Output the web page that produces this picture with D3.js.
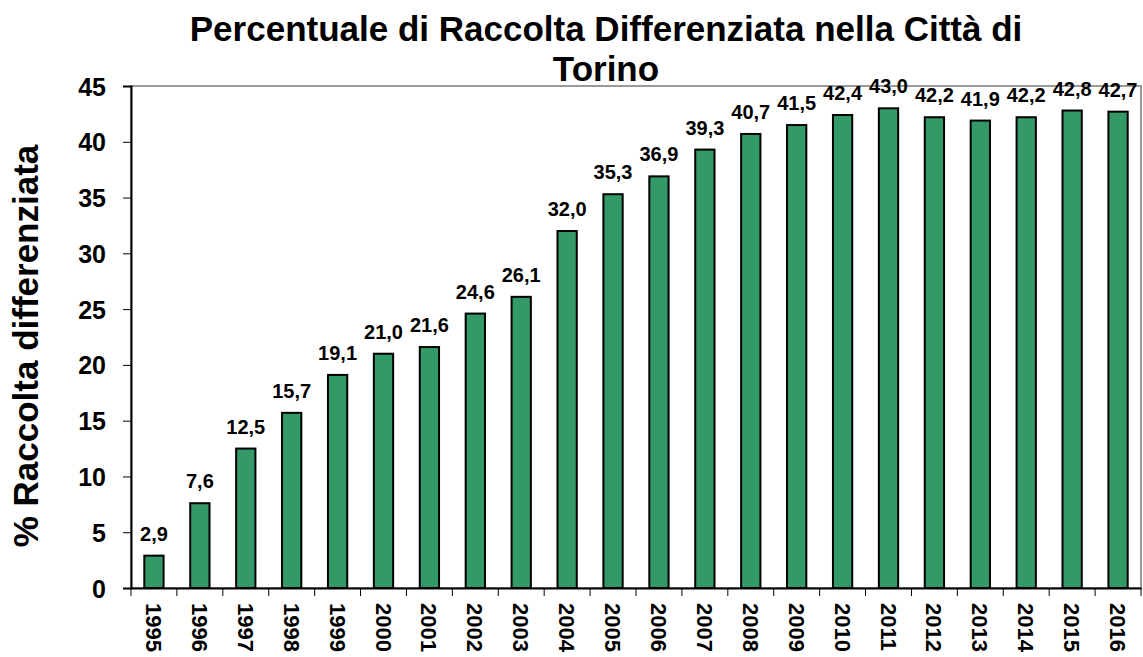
<!DOCTYPE html>
<html><head><meta charset="utf-8">
<script src="https://cdn.jsdelivr.net/npm/d3@7"></script>
<style>body{margin:0;background:#fff}svg{display:block}text{font-family:"Liberation Sans",Arial,sans-serif;font-weight:bold}</style>
</head><body>
<script>
const years = ["1995","1996","1997","1998","1999","2000","2001","2002","2003","2004","2005","2006","2007","2008","2009","2010","2011","2012","2013","2014","2015","2016"];
const values = [2.9,7.6,12.5,15.7,19.1,21.0,21.6,24.6,26.1,32.0,35.3,36.9,39.3,40.7,41.5,42.4,43.0,42.2,41.9,42.2,42.8,42.7];
const yTicks = [0,5,10,15,20,25,30,35,40,45];
const titleLines = ["Percentuale di Raccolta Differenziata nella Città di","Torino"];
const yTitle = "% Raccolta differenziata";

const W=1143,H=657;
const m={l:131,r:2,t:86,b:69};
const svg=d3.select("body").append("svg").attr("width",W).attr("height",H);
const x=d3.scaleBand().domain(years).range([m.l,W-m.r]).paddingInner(0.58).paddingOuter(0.29);
const xb=d3.scaleBand().domain(years).range([m.l,W-m.r]);
const y=d3.scaleLinear().domain([0,45]).range([H-m.b,m.t]);

// plot border
svg.append("rect").attr("x",m.l).attr("y",m.t).attr("width",W-m.r-m.l).attr("height",H-m.b-m.t)
  .attr("fill","none").attr("stroke","#999").attr("stroke-width",2);

svg.append("g").selectAll("rect").data(values).join("rect")
  .attr("x",(d,i)=>x(years[i])).attr("width",x.bandwidth())
  .attr("y",d=>y(d)).attr("height",d=>y(0)-y(d))
  .attr("fill","#339966").attr("stroke","#000").attr("stroke-width",2);

// titles
svg.append("g").selectAll("text").data(titleLines).join("text")
  .attr("x",606).attr("y",(d,i)=>41+i*40).attr("text-anchor","middle").attr("font-size",35).text(d=>d);
svg.append("text").attr("transform",`translate(38,346) rotate(-90)`)
  .attr("text-anchor","middle").attr("font-size",35).text(yTitle);

svg.append("g").selectAll("text").data(values).join("text")
  .attr("x",(d,i)=>xb(years[i])+xb.bandwidth()/2).attr("y",d=>y(d)-15)
  .attr("text-anchor","middle").attr("font-size",20)
  .text(d=>d.toFixed(1).replace(".",","));

// y axis
const ya=svg.append("g").attr("transform",`translate(${m.l},0)`)
  .call(d3.axisLeft(y).tickValues(yTicks).tickSize(8).tickPadding(17));
ya.select(".domain").attr("stroke","#000").attr("stroke-width",2);
ya.selectAll("text").attr("font-size",25).attr("fill","#000").attr("dy","0.36em");

// x axis
const xa=svg.append("g").attr("transform",`translate(0,${H-m.b})`)
  .call(d3.axisBottom(xb).tickSize(0).tickFormat(""));
xa.select(".domain").attr("stroke","#000").attr("stroke-width",2);
svg.append("g").selectAll("line").data(years.concat(["end"])).join("line")
  .attr("x1",(d,i)=>m.l+i*xb.bandwidth()).attr("x2",(d,i)=>m.l+i*xb.bandwidth())
  .attr("y1",H-m.b).attr("y2",H-m.b+8).attr("stroke","#000").attr("stroke-width",1);
svg.append("g").selectAll("text").data(years).join("text")
  .attr("transform",d=>`translate(${xb(d)+xb.bandwidth()/2},${H-m.b+15}) rotate(90)`)
  .attr("dy","0.36em").attr("font-size",22).text(d=>d);
</script>
</body></html>
